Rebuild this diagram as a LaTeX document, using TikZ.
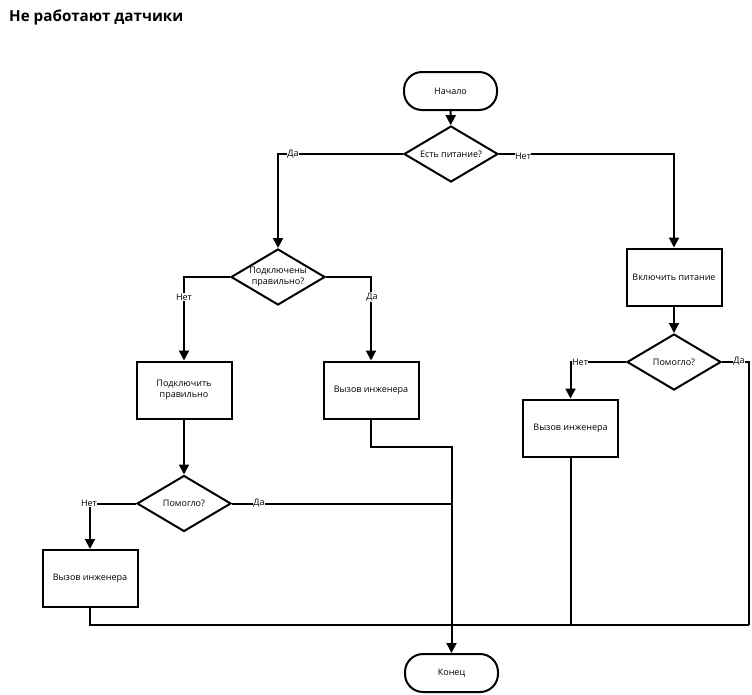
\documentclass[tikz,border=0pt]{standalone}
\usepackage{fontspec}
\setmainfont{Open Sans}
\usetikzlibrary{shapes.geometric,arrows.meta}
\tikzset{
  base/.style={draw=black,line width=2pt,inner sep=0pt,font=\fontsize{9}{11.5}\selectfont,align=center},
  term/.style={base,rectangle,rounded corners=18pt,minimum width=93pt,minimum height=38pt},
  proc/.style={base,rectangle,minimum width=95pt,minimum height=57pt},
  dia/.style={base,diamond,minimum width=94pt,minimum height=56pt},
  txt/.style={font=\fontsize{9}{11.5}\selectfont,align=center,inner sep=0pt},
  lbl/.style={font=\fontsize{9}{11}\selectfont,fill=white,inner sep=0.5pt},
  conn/.style={line width=2pt,draw=black},
  arr/.style={conn,-{Triangle[length=10pt,width=10pt]}}
}
\begin{document}
\begin{tikzpicture}[x=1pt,y=-1pt]
\useasboundingbox (0,0) rectangle (752,694);
\node[anchor=west,font=\fontsize{15.2}{17}\selectfont\bfseries,inner sep=0pt] (title) at (9,17.5) {Не работают датчики};

\node[term] (start) at (450.5,91) {Начало};
\node[dia] (d1) at (451,154) {};
\node[txt] (t1) at (d1) {Есть питание?};
\node[dia] (d2) at (278,277) {};
\node[txt] (t2) at (d2) {Подключены\\правильно?};
\node[proc] (p1) at (184,390) {Подключить\\правильно};
\node[proc] (p2) at (371,390) {Вызов инженера};
\node[dia] (d3) at (184,503.5) {};
\node[txt] (t3) at (d3) {Помогло?};
\node[proc] (p3) at (90,578.5) {Вызов инженера};
\node[proc] (p4) at (674,277) {Включить питание};
\node[dia] (d4) at (674,362) {};
\node[txt] (t4) at (d4) {Помогло?};
\node[proc] (p5) at (570.5,428) {Вызов инженера};
\node[term] (end) at (451.5,673) {Конец};

\coordinate (j1) at (451.5,447);
\coordinate (j2) at (451.5,503.5);
\coordinate (j3) at (749,625);
\coordinate (j4) at (570.5,625);

\draw[arr] (start) -- (d1);
\draw[arr] (d1.west) -| (d2.north);
\draw[arr] (d1.east) -| (p4.north);
\draw[arr] (d2.west) -| (p1.north);
\draw[arr] (d2.east) -| (p2.north);
\draw[arr] (p1) -- (d3);
\draw[arr] (d3.west) -| (p3.north);
\draw[arr] (p4) -- (d4);
\draw[arr] (d4.west) -| (p5.north);
\draw[arr] (p2.south) |- (j1) -- (end.north);
\draw[conn] (d3.east) -- (j2);
\draw[conn] (p3.south) |- (j3);
\draw[conn] (d4.east) -| (j3);
\draw[conn] (p5.south) -- (j4);

\node[lbl] (l1) at (293,154) {Да};
\node[lbl] (l2) at (523,156) {Нет};
\node[lbl] (l3) at (184,297) {Нет};
\node[lbl] (l4) at (372,297) {Да};
\node[lbl] (l5) at (89,503.5) {Нет};
\node[lbl] (l6) at (259,503.5) {Да};
\node[lbl] (l7) at (580,362) {Нет};
\node[lbl] (l8) at (739,361) {Да};
\end{tikzpicture}
\end{document}
